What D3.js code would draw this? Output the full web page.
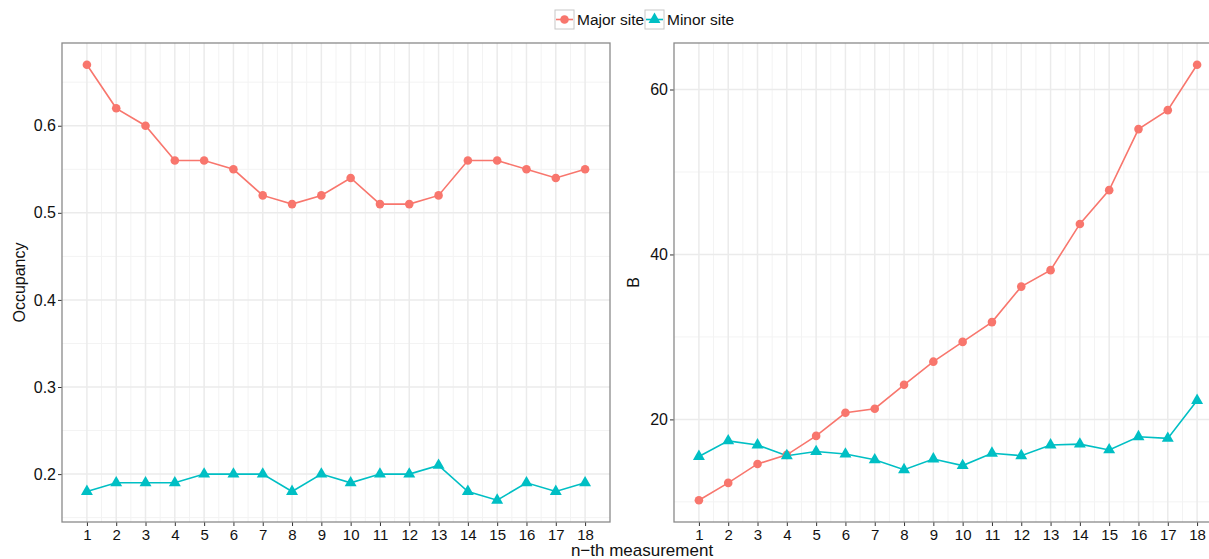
<!DOCTYPE html>
<html>
<head>
<meta charset="utf-8">
<script src="https://cdn.jsdelivr.net/npm/d3@7"></script>
<style>
  html, body { margin: 0; padding: 0; background: #fff; }
  svg text { font-family: "Liberation Sans", Arial, Helvetica, sans-serif; }
</style>
</head>
<body>
<svg id="chart" width="1209" height="559"></svg>
<script>
// ---- data ----
const measurements = [1,2,3,4,5,6,7,8,9,10,11,12,13,14,15,16,17,18];
const seriesNames = ["Major site", "Minor site"];
const occupancyMajor = [0.67,0.62,0.60,0.56,0.56,0.55,0.52,0.51,0.52,0.54,0.51,0.51,0.52,0.56,0.56,0.55,0.54,0.55];
const occupancyMinor = [0.18,0.19,0.19,0.19,0.20,0.20,0.20,0.18,0.20,0.19,0.20,0.20,0.21,0.18,0.17,0.19,0.18,0.19];
const bMajor = [10.2,12.3,14.6,15.7,18.0,20.8,21.3,24.2,27.0,29.4,31.8,36.1,38.1,43.7,47.8,55.2,57.5,63.0];
const bMinor = [15.5,17.4,16.9,15.6,16.1,15.8,15.1,13.9,15.2,14.4,15.9,15.6,16.9,17.0,16.3,17.9,17.7,22.3];
const occupancyTicks = [0.2,0.3,0.4,0.5,0.6];
const occupancyMinorTicks = [0.15,0.25,0.35,0.45,0.55,0.65];
const bTicks = [20,40,60];
const bMinorTicks = [10,30,50];
const xMinorTicks = measurements.slice(0,-1).map(d => d + 0.5);

const colors = ["#F8766D", "#00BFC4"];

const svg = d3.select("#chart");

function expand(ext, f) {
  const r = ext[1] - ext[0];
  return [ext[0] - r * f, ext[1] + r * f];
}

function panel(opts) {
  const {x0, x1, y0, y1, major, minor, yTicks, yMinor, yTitle, titleX, fmt} = opts;
  const g = svg.append("g");
  const x = d3.scaleLinear().domain(expand(d3.extent(measurements), 0.05)).range([x0, x1]);
  const all = major.concat(minor);
  const y = d3.scaleLinear().domain(expand(d3.extent(all), 0.05)).range([y1, y0]);

  g.append("rect").attr("x", x0).attr("y", y0).attr("width", x1 - x0).attr("height", y1 - y0).attr("fill", "#fff");

  // minor grid
  g.selectAll(".ymin").data(yMinor).join("line")
    .attr("x1", x0).attr("x2", x1).attr("y1", d => y(d)).attr("y2", d => y(d))
    .attr("stroke", "#F3F3F3").attr("stroke-width", 1);
  g.selectAll(".xmin").data(xMinorTicks).join("line")
    .attr("y1", y0).attr("y2", y1).attr("x1", d => x(d)).attr("x2", d => x(d))
    .attr("stroke", "#F3F3F3").attr("stroke-width", 1);
  // major grid
  g.selectAll(".ymaj").data(yTicks).join("line")
    .attr("x1", x0).attr("x2", x1).attr("y1", d => y(d)).attr("y2", d => y(d))
    .attr("stroke", "#EBEBEB").attr("stroke-width", 1.5);
  g.selectAll(".xmaj").data(measurements).join("line")
    .attr("y1", y0).attr("y2", y1).attr("x1", d => x(d)).attr("x2", d => x(d))
    .attr("stroke", "#EBEBEB").attr("stroke-width", 1.5);

  // axes
  const xAxis = d3.axisBottom(x).tickValues(measurements).tickSize(4).tickPadding(3).tickFormat(d3.format("d"));
  const gx = g.append("g").attr("transform", `translate(0,${y1})`).call(xAxis);
  gx.select(".domain").remove();
  gx.selectAll("line").attr("stroke", "#333");
  gx.selectAll("text").attr("font-size", "15px").attr("fill", "#111");

  const yAxis = d3.axisLeft(y).tickValues(yTicks).tickSize(4).tickPadding(2).tickFormat(fmt);
  const gy = g.append("g").attr("transform", `translate(${x0},0)`).call(yAxis);
  gy.select(".domain").remove();
  gy.selectAll("line").attr("stroke", "#333");
  gy.selectAll("text").attr("font-size", "16px").attr("fill", "#111");

  // series
  const line = d3.line().x((d, i) => x(measurements[i])).y(d => y(d));
  [major, minor].forEach((s, k) => {
    g.append("path").datum(s).attr("d", line).attr("fill", "none")
      .attr("stroke", colors[k]).attr("stroke-width", 1.6);
  });
  g.selectAll(".pt").data(major).join("circle")
    .attr("cx", (d, i) => x(measurements[i])).attr("cy", d => y(d)).attr("r", 4.3)
    .attr("fill", colors[0]);
  const tri = d3.symbol().type(d3.symbolTriangle).size(62);
  g.selectAll(".tr").data(minor).join("path")
    .attr("d", tri)
    .attr("transform", (d, i) => `translate(${x(measurements[i])},${y(d)})`)
    .attr("fill", colors[1]);

  // border
  g.append("rect").attr("x", x0).attr("y", y0).attr("width", x1 - x0).attr("height", y1 - y0)
    .attr("fill", "none").attr("stroke", "#8a8a8a").attr("stroke-width", 1.3);

  // y title
  g.append("text").attr("transform", `translate(${titleX},${(y0 + y1) / 2}) rotate(-90)`)
    .attr("text-anchor", "middle").attr("font-size", "16px").attr("fill", "#111").text(yTitle);
}

panel({x0: 62, x1: 610, y0: 43, y1: 522, major: occupancyMajor, minor: occupancyMinor,
  yTicks: occupancyTicks, yMinor: occupancyMinorTicks, yTitle: "Occupancy", titleX: 25, fmt: d3.format(".1f")});
panel({x0: 674, x1: 1222, y0: 43, y1: 522, major: bMajor, minor: bMinor,
  yTicks: bTicks, yMinor: bMinorTicks, yTitle: "B", titleX: 639, fmt: d3.format("d")});

// x title
svg.append("text").attr("x", 642).attr("y", 556).attr("text-anchor", "middle")
  .attr("font-size", "17px").attr("fill", "#111").text("n\u2212th measurement");

// legend
const legend = svg.append("g");
const keyX = [555, 645];
const textX = [577, 667];
seriesNames.forEach((name, k) => {
  const kg = legend.append("g").attr("transform", `translate(${keyX[k]},10)`);
  kg.append("rect").attr("width", 19).attr("height", 19).attr("fill", "#fff")
    .attr("stroke", "#c8c8c8").attr("stroke-width", 1);
  kg.append("line").attr("x1", 1).attr("x2", 18).attr("y1", 9.5).attr("y2", 9.5)
    .attr("stroke", colors[k]).attr("stroke-width", 1.6);
  if (k === 0) {
    kg.append("circle").attr("cx", 9.5).attr("cy", 9.5).attr("r", 4.3).attr("fill", colors[0]);
  } else {
    kg.append("path").attr("d", d3.symbol().type(d3.symbolTriangle).size(62)())
      .attr("transform", "translate(9.5,9.5)").attr("fill", colors[1]);
  }
  legend.append("text").attr("x", textX[k]).attr("y", 25).attr("font-size", "15.5px")
    .attr("fill", "#111").text(name);
});
</script>
</body>
</html>
